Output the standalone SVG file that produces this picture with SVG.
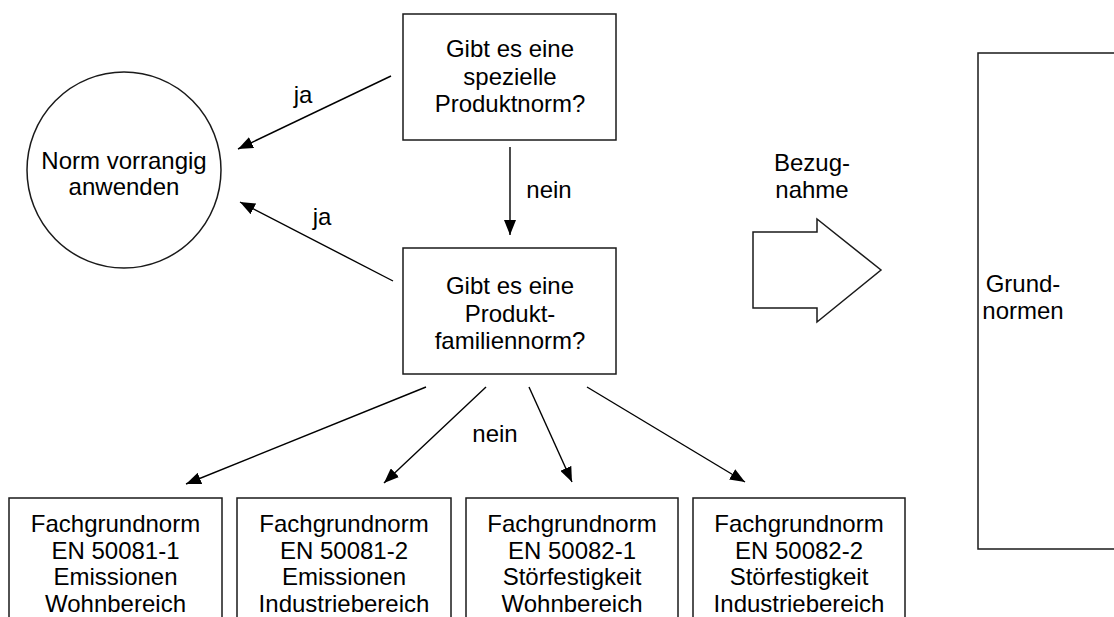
<svg xmlns="http://www.w3.org/2000/svg" width="1114" height="617" viewBox="0 0 1114 617">
  <style>
    .box { fill: #ffffff; stroke: #1a1a1a; stroke-width: 1.5; }
    .lbl { font-family: "Liberation Sans", Arial, Helvetica, sans-serif; font-size: 24px; fill: #000000; text-anchor: middle; }
    .edge { fill: none; stroke: #000000; stroke-width: 1.4; marker-end: url(#head); }
  </style>
  <defs>
    <marker id="head" markerUnits="userSpaceOnUse" markerWidth="16" markerHeight="12" refX="15" refY="6" orient="auto">
      <path d="M0,0 L15,6 L0,12 z" fill="#000000"/>
    </marker>
  </defs>
  <rect width="1114" height="617" fill="#ffffff"/>

  <!-- nodes -->
  <g id="norm-vorrangig">
    <ellipse cx="124" cy="170" rx="97" ry="98" class="box"/>
    <text class="lbl" x="124" y="169">Norm vorrangig</text>
    <text class="lbl" x="124" y="195">anwenden</text>
  </g>

  <g id="produktnorm">
    <rect x="403" y="14" width="213" height="126" class="box"/>
    <text class="lbl" x="510" y="57">Gibt es eine</text>
    <text class="lbl" x="510" y="84.5">spezielle</text>
    <text class="lbl" x="510" y="112">Produktnorm?</text>
  </g>

  <g id="produktfamiliennorm">
    <rect x="403" y="248" width="213" height="126" class="box"/>
    <text class="lbl" x="510" y="294">Gibt es eine</text>
    <text class="lbl" x="510" y="321.5">Produkt-</text>
    <text class="lbl" x="510" y="349">familiennorm?</text>
  </g>

  <g id="fgn-50081-1">
    <rect x="9" y="498" width="213" height="140" class="box"/>
    <text class="lbl" x="115.5" y="532">Fachgrundnorm</text>
    <text class="lbl" x="115.5" y="558.5">EN 50081-1</text>
    <text class="lbl" x="115.5" y="585">Emissionen</text>
    <text class="lbl" x="115.5" y="611.5">Wohnbereich</text>
  </g>

  <g id="fgn-50081-2">
    <rect x="237" y="498" width="214" height="140" class="box"/>
    <text class="lbl" x="344" y="532">Fachgrundnorm</text>
    <text class="lbl" x="344" y="558.5">EN 50081-2</text>
    <text class="lbl" x="344" y="585">Emissionen</text>
    <text class="lbl" x="344" y="611.5">Industriebereich</text>
  </g>

  <g id="fgn-50082-1">
    <rect x="466" y="498" width="212" height="140" class="box"/>
    <text class="lbl" x="572" y="532">Fachgrundnorm</text>
    <text class="lbl" x="572" y="558.5">EN 50082-1</text>
    <text class="lbl" x="572" y="585">Störfestigkeit</text>
    <text class="lbl" x="572" y="611.5">Wohnbereich</text>
  </g>

  <g id="fgn-50082-2">
    <rect x="693" y="498" width="212" height="140" class="box"/>
    <text class="lbl" x="799" y="532">Fachgrundnorm</text>
    <text class="lbl" x="799" y="558.5">EN 50082-2</text>
    <text class="lbl" x="799" y="585">Störfestigkeit</text>
    <text class="lbl" x="799" y="611.5">Industriebereich</text>
  </g>

  <g id="bezugnahme">
    <path d="M753,232 L817,232 L817,219 L881,270 L817,322 L817,308 L753,308 z" class="box"/>
    <text class="lbl" x="812" y="171">Bezug-</text>
    <text class="lbl" x="812" y="198">nahme</text>
  </g>

  <g id="grundnormen">
    <rect x="978" y="53" width="150" height="496" class="box"/>
    <text class="lbl" x="1023" y="292">Grund-</text>
    <text class="lbl" x="1023" y="318.5">normen</text>
  </g>

  <!-- connectors -->
  <g id="connectors">
    <line x1="391" y1="76" x2="238" y2="149" class="edge"/>
    <line x1="393" y1="281" x2="240" y2="202" class="edge"/>
    <line x1="510" y1="147" x2="510" y2="235" class="edge"/>
    <line x1="426" y1="387" x2="186" y2="484" class="edge"/>
    <line x1="486" y1="387" x2="384" y2="483" class="edge"/>
    <line x1="529" y1="387" x2="572" y2="482" class="edge"/>
    <line x1="587" y1="387" x2="745" y2="482" class="edge"/>
  </g>

  <!-- connector labels -->
  <g id="edge-labels">
    <text class="lbl" x="303" y="103">ja</text>
    <text class="lbl" x="322" y="225">ja</text>
    <text class="lbl" x="549" y="198">nein</text>
    <text class="lbl" x="495" y="442">nein</text>
  </g>
</svg>
